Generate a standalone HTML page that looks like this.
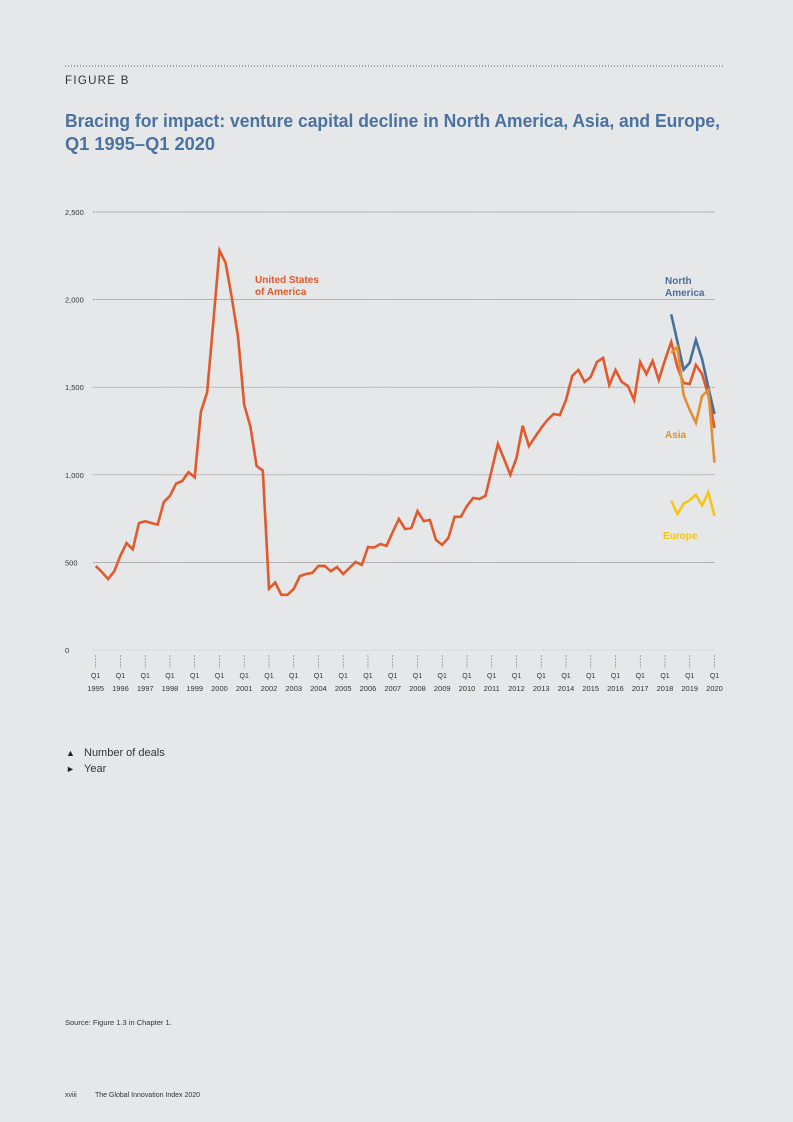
<!DOCTYPE html>
<html><head><meta charset="utf-8"><style>
html,body{margin:0;padding:0;background:#e6e7e9;}
svg{display:block;font-family:"Liberation Sans",sans-serif;}
</style></head><body>
<svg id="page" width="793" height="1122" viewBox="0 0 793 1122">
<rect width="793" height="1122" fill="#e6e7e9"/>
<line x1="65" y1="66" x2="725" y2="66" stroke="#555" stroke-width="1" stroke-dasharray="1,2"/>
<text x="65" y="84" font-size="11.5" fill="#333" letter-spacing="1.3">FIGURE B</text>
<text x="65" y="127" font-size="18" font-weight="bold" fill="#4a72a0" textLength="655" lengthAdjust="spacingAndGlyphs">Bracing for impact: venture capital decline in North America, Asia, and Europe,</text>
<text x="65" y="150" font-size="18" font-weight="bold" fill="#4a72a0" textLength="150" lengthAdjust="spacingAndGlyphs">Q1 1995–Q1 2020</text>
<g id="grid"></g>
<g id="xaxis"></g>
<g id="series"></g>
<text x="255" y="283" font-size="10" font-weight="bold" fill="#e05a2b">United States</text>
<text x="255" y="295" font-size="10" font-weight="bold" fill="#e05a2b">of America</text>
<text x="665" y="284" font-size="10" font-weight="bold" fill="#4a6e9a">North</text>
<text x="665" y="296" font-size="10" font-weight="bold" fill="#4a6e9a">America</text>
<text x="665" y="438" font-size="10" font-weight="bold" fill="#e09030">Asia</text>
<text x="663" y="539" font-size="10" font-weight="bold" fill="#f5c518">Europe</text>
<text x="66" y="756" font-size="9" fill="#222">▲</text>
<text x="84" y="756" font-size="11" fill="#333">Number of deals</text>
<text x="66" y="772" font-size="9" fill="#222">►</text>
<text x="84" y="772" font-size="11" fill="#333">Year</text>
<text x="65" y="1025" font-size="7.5" fill="#333">Source: Figure 1.3 in Chapter 1.</text>
<text x="65" y="1097" font-size="7" fill="#333">xviii</text>
<text x="95" y="1097" font-size="7" fill="#333">The Global Innovation Index 2020</text>
</svg>
<script>
const yTicks = [0, 500, 1000, 1500, 2000, 2500];
const yTickLabels = ["0", "500", "1,000", "1,500", "2,000", "2,500"];
const years = ["1995","1996","1997","1998","1999","2000","2001","2002","2003","2004","2005","2006","2007","2008","2009","2010","2011","2012","2013","2014","2015","2016","2017","2018","2019","2020"];
const usValues = [480,445,405,450,540,610,575,725,735,725,715,845,880,950,965,1015,985,1360,1470,1870,2280,2210,2010,1790,1400,1275,1050,1025,350,385,315,315,348,422,434,440,480,480,450,474,434,468,502,485,588,585,605,594,673,748,690,696,793,736,742,628,600,640,760,760,822,868,862,880,1027,1176,1090,1000,1096,1280,1164,1216,1267,1313,1347,1341,1427,1564,1598,1530,1558,1644,1667,1512,1598,1530,1507,1427,1644,1575,1650,1541,1655,1758,1615,1524,1518,1627,1575,1455,1267];
const naStart = 93;
const naValues = [1916,1760,1600,1640,1770,1660,1500,1347];
const asiaValues = [1695,1730,1455,1370,1296,1450,1484,1069];
const europeValues = [852,775,835,855,885,825,900,765];
const NS="http://www.w3.org/2000/svg";
const x0=95.7, x1=714.5, nQ=100, yZero=650, yPer=0.1752;
const xs=i=>x0+(x1-x0)*i/nQ;
const ys=v=>yZero-v*yPer;
function mk(tag,attrs,parent){const e=document.createElementNS(NS,tag);for(const k in attrs)e.setAttribute(k,attrs[k]);parent.appendChild(e);return e;}
const grid=document.getElementById('grid');
yTicks.forEach((t,i)=>{
  const l=mk('line',{x1:93,x2:715,y1:ys(t),y2:ys(t),stroke:i==0?'#aaa':'#8a8a8a','stroke-width':i==0?0.6:0.7,'stroke-dasharray':i==0?'1,1':'2,0.6'},grid);
  
  
  const tx=mk('text',{x:65,y:ys(t)+3,'font-size':7.5,fill:'#333'},grid);
  tx.textContent=yTickLabels[i];
  
  
});
const xa=document.getElementById('xaxis');
years.forEach((yr,k)=>{
  const x=xs(k*4);
  const l=mk('line',{x1:x,x2:x,y1:655,y2:668,stroke:'#888','stroke-width':0.7,'stroke-dasharray':'2,1'},xa);
  
  
  const t1=mk('text',{x:x,y:678,'font-size':7,fill:'#333','text-anchor':'middle'},xa);
  t1.textContent='Q1';
  
  
  const t2=mk('text',{x:x,y:691,'font-size':7.5,fill:'#333','text-anchor':'middle'},xa);
  t2.textContent=yr;
  
  
});
const sg=document.getElementById('series');
function line(vals,start,color,name){
  const d=vals.map((v,i)=>(i?'L':'M')+xs(start+i).toFixed(1)+','+ys(v).toFixed(1)).join('');
  const p=mk('path',{d:d,fill:'none',stroke:color,'stroke-width':2.6,'stroke-linejoin':'miter'},sg);
  
  
}
line(naValues,naStart,'#4a6e9a','series-north-america');
line(usValues,0,'#e05a2b','series-usa');
line(asiaValues,naStart,'#e09030','series-asia');
line(europeValues,naStart,'#f5c518','series-europe');
</script>
</body></html>
